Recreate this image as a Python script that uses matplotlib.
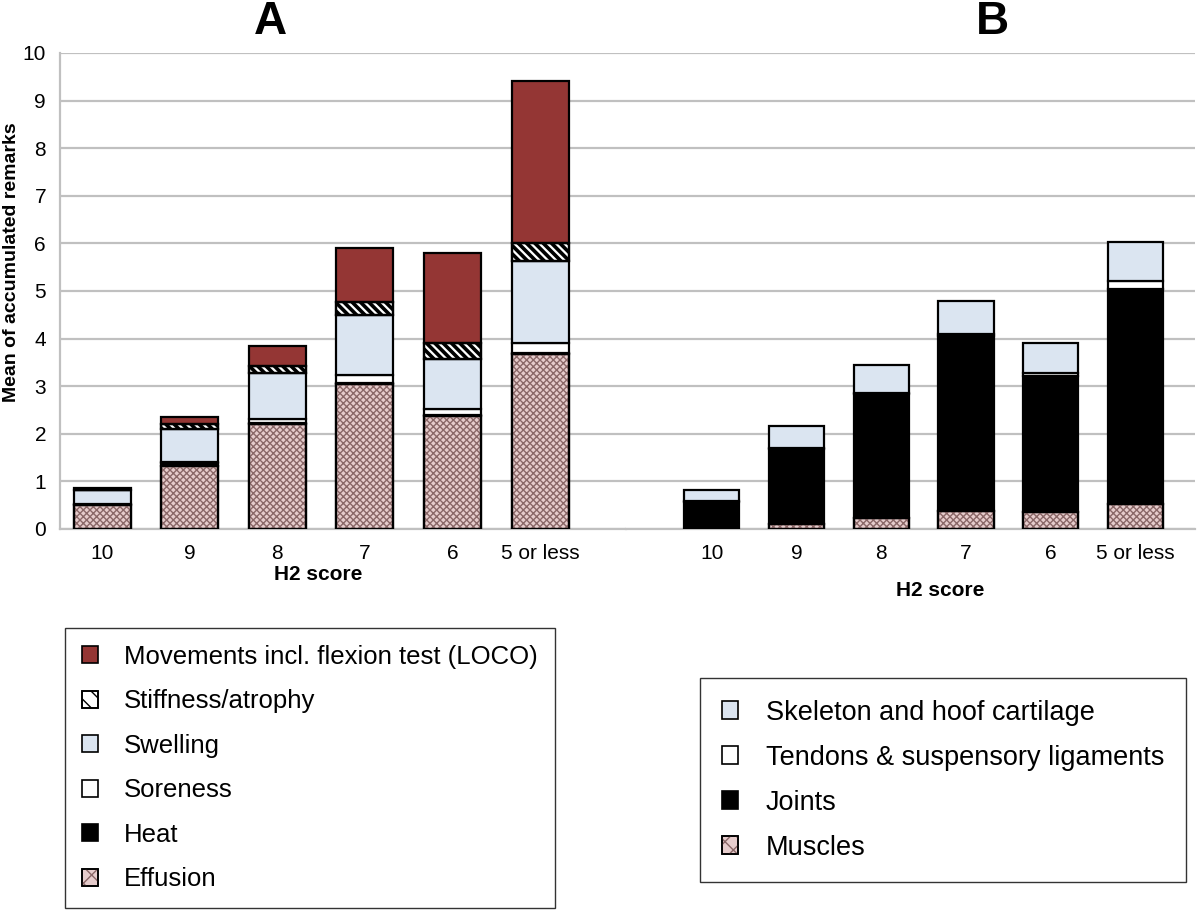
import matplotlib
matplotlib.use("Agg")
import matplotlib.pyplot as plt
from matplotlib.patches import Patch
import numpy as np

plt.rcParams['font.family'] = ['Liberation Sans', 'DejaVu Sans']

scores = ['10', '9', '8', '7', '6', '5 or less']

# panel A: bottom to top
effusion = [0.50, 1.33, 2.20, 3.05, 2.37, 3.68]
heat = [0.02, 0.06, 0.02, 0.02, 0.02, 0.02]
soreness = [0.01, 0.02, 0.10, 0.17, 0.13, 0.20]
swelling = [0.28, 0.70, 0.96, 1.26, 1.05, 1.73]
stiffness = [0.01, 0.09, 0.15, 0.26, 0.33, 0.38]
movements = [0.04, 0.15, 0.42, 1.14, 1.90, 3.40]

# panel B: bottom to top
muscles = [0.00, 0.10, 0.23, 0.38, 0.36, 0.52]
joints = [0.57, 1.58, 2.60, 3.67, 2.86, 4.53]
tendons = [0.01, 0.02, 0.02, 0.05, 0.06, 0.17]
skeleton = [0.23, 0.47, 0.60, 0.68, 0.62, 0.80]

# style per series: (face, hatch, hatch colour, hatch width)
red = '#943634'
blue = '#dbe5f1'
pink = '#e6cccc'
dots = ('xxxxx', '#8a6868', 1.0)
stripes = ('\\\\\\\\', 'black', 2.6)
styles_a = [
    ('Effusion', effusion, pink, dots),
    ('Heat', heat, 'black', None),
    ('Soreness', soreness, 'white', None),
    ('Swelling', swelling, blue, None),
    ('Stiffness/atrophy', stiffness, 'white', stripes),
    ('Movements incl. flexion test (LOCO)', movements, red, None),
]
styles_b = [
    ('Muscles', muscles, pink, dots),
    ('Joints', joints, 'black', None),
    ('Tendons & suspensory ligaments', tendons, 'white', None),
    ('Skeleton and hoof cartilage', skeleton, blue, None),
]

W, H = 1200, 923
fig = plt.figure(figsize=(W / 100, H / 100), dpi=100)
axA = fig.add_axes([60 / W, 1 - 529 / H, (626 - 60) / W, (529 - 53) / H])
axB = fig.add_axes([626 / W, 1 - 529 / H, (1195 - 626) / W, (529 - 53) / H])


def hatched(patches, hlw):
    for p in patches:
        if hasattr(p, 'set_hatch_linewidth'):
            p.set_hatch_linewidth(hlw)


def draw(ax, styles):
    x = np.arange(len(scores))
    bottom = np.zeros(len(scores))
    handles = []
    for name, vals, face, hs in styles:
        vals = np.array(vals)
        ax.bar(x, vals, 0.65, bottom=bottom, color=face, edgecolor='black',
               linewidth=1.6, zorder=3)
        h = Patch(facecolor=face, edgecolor='black', linewidth=1.2)
        if hs:
            hatch, hcol, hlw = hs
            with plt.rc_context({'hatch.linewidth': hlw}):
                b = ax.bar(x, vals, 0.65, bottom=bottom, fill=False, hatch=hatch,
                           edgecolor=hcol, linewidth=0, zorder=4)
                hatched(b.patches, hlw)
                hp = Patch(fill=False, hatch=hatch[:2], edgecolor=hcol, linewidth=0)
                hatched([hp], hlw * 0.6)
            ax.bar(x, vals, 0.65, bottom=bottom, fill=False, edgecolor='black',
                   linewidth=1.6, zorder=5)
            h = (h, hp, Patch(fill=False, edgecolor='black', linewidth=1.2))
        handles.append((h, name))
        bottom += vals
    ax.set_ylim(0, 10)
    ax.set_yticks(range(11))
    ax.yaxis.grid(True, color='#c0c0c0', linewidth=1.6, zorder=0)
    ax.set_axisbelow(True)
    ax.set_xticks(x)
    ax.set_xticklabels(scores, fontsize=15)
    ax.tick_params(axis='x', length=0, pad=11)
    ax.tick_params(axis='y', length=0, pad=10, labelsize=15)
    for s in ['top', 'right']:
        ax.spines[s].set_visible(False)
    ax.spines['bottom'].set_color('#c0c0c0')
    ax.spines['bottom'].set_linewidth(1.6)
    ax.spines['left'].set_color('#c0c0c0')
    ax.spines['left'].set_linewidth(1.6)
    return handles[::-1]


hA = draw(axA, styles_a)
hB = draw(axB, styles_b)
axA.set_xlim(-0.48, 5.98)
axB.set_xlim(-1.01, 5.70)
axB.spines['left'].set_visible(False)
axB.set_yticklabels([])
axA.set_ylabel('Mean of accumulated remarks', fontsize=14, fontweight='bold')
axA.yaxis.set_label_coords(-0.071, 0.561)

fig.text(270 / W, 1 - 22 / H, 'A', fontsize=33, fontweight='bold', ha='center', va='center')
fig.text(992 / W, 1 - 22 / H, 'B', fontsize=33, fontweight='bold', ha='center', va='center')
fig.text(318 / W, 1 - 575 / H, 'H2 score', fontsize=15, fontweight='bold', ha='center', va='center')
fig.text(940 / W, 1 - 591 / H, 'H2 score', fontsize=15, fontweight='bold', ha='center', va='center')

legA = fig.legend([h for h, n in hA], [n for h, n in hA], loc='upper left',
                  bbox_to_anchor=(65 / W, 1 - 628 / H), fontsize=18.5, frameon=True,
                  fancybox=False, edgecolor='black', handlelength=0.65, handleheight=0.65,
                  handletextpad=1.0, labelspacing=0.8, borderpad=0.65, borderaxespad=0)
legA.get_frame().set_linewidth(1.0)
legB = fig.legend([h for h, n in hB], [n for h, n in hB], loc='upper left',
                  bbox_to_anchor=(700 / W, 1 - 678 / H), fontsize=19.5, frameon=True,
                  fancybox=False, edgecolor='black', handlelength=0.62, handleheight=0.62,
                  handletextpad=1.0, labelspacing=0.7, borderpad=0.8, borderaxespad=0)
legB.get_frame().set_linewidth(1.0)

fig.savefig('out.png', dpi=100)
